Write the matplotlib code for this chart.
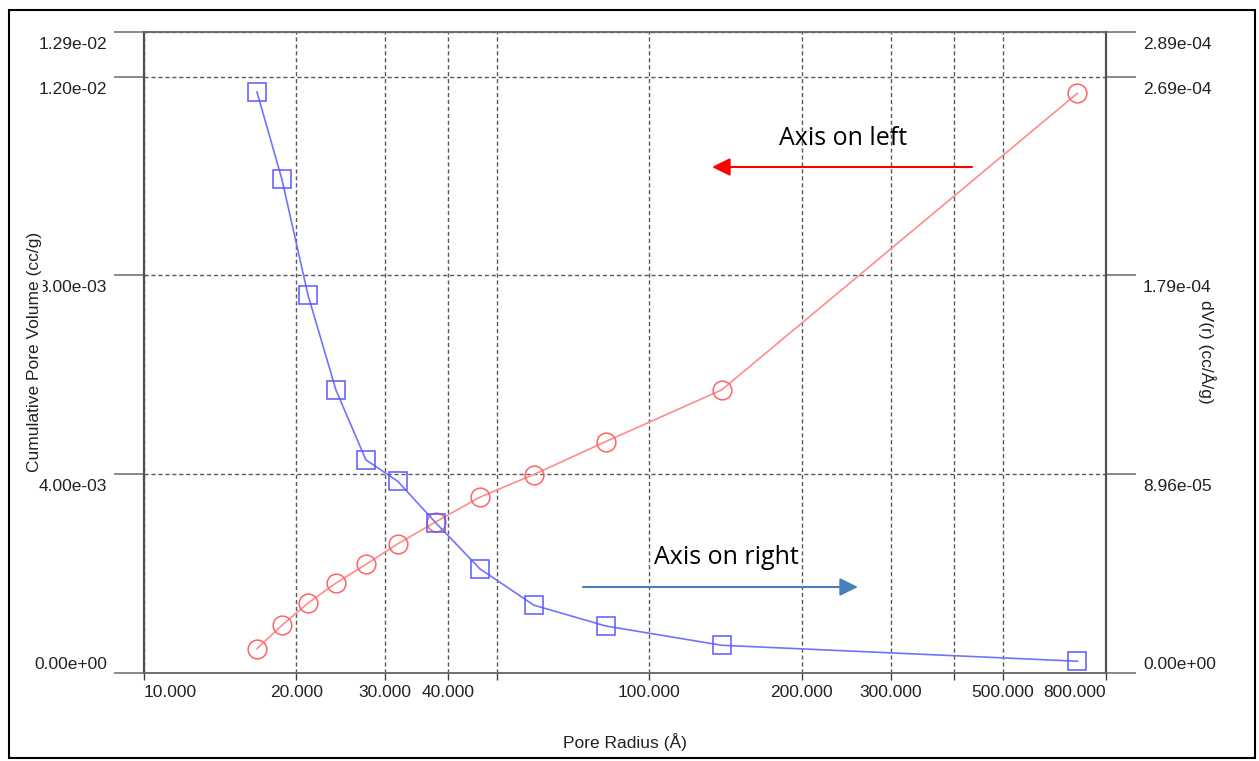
import matplotlib
matplotlib.use('Agg')
import matplotlib.pyplot as plt
from matplotlib.ticker import NullLocator
from matplotlib.patches import Rectangle

# pore size distribution data
radius = [16.73, 18.74, 21.10, 23.97, 27.47, 31.78, 37.78, 46.17, 59.03, 81.91, 138.9, 702.4]
cum_vol = [0.000490, 0.000959, 0.001407, 0.001809, 0.002185, 0.002601,
           0.003043, 0.003538, 0.003994, 0.004657, 0.005697, 0.011667]
dv_r = [2.619e-4, 2.226e-4, 1.705e-4, 1.276e-4, 9.61e-5, 8.64e-5,
        6.77e-5, 4.70e-5, 3.06e-5, 2.12e-5, 1.25e-5, 5.3e-6]

x_ticks = [10, 20, 30, 40, 50, 100, 200, 300, 400, 500, 800]
x_labels = ['10.000', '20.000', '30.000', '40.000', '', '100.000', '200.000',
            '300.000', '', '500.000', '800.000']
left_ticks = [0, 0.004, 0.008, 0.012, 0.0129]
right_ticks = [0, 8.96e-5, 1.792e-4, 2.688e-4, 2.8896e-4]

plt.rcParams['font.family'] = ['Liberation Sans', 'DejaVu Sans']
W, H = 1259, 761
fig = plt.figure(figsize=(W / 100, H / 100), dpi=100)
ax = fig.add_axes([144 / W, 1 - 673 / H, (1106 - 144) / W, (673 - 32) / H])
ax2 = ax.twinx()

txt = '#222222'
fs = 12.5

ax.plot(radius, cum_vol, color='#ff8c8c', lw=1.2, marker='o', ms=13.5,
        mfc='none', mec='#ff6464', mew=1.1, zorder=3)
ax2.plot(radius, dv_r, color='#7272ff', lw=1.2, marker='s', ms=13.5,
         mfc='none', mec='#5858ff', mew=1.1, zorder=3)

ax.set_xscale('log')
ax.set_xlim(10, 800)
ax.set_ylim(0, 0.0129)
ax2.set_ylim(0, 0.0129 * 0.0224)
ax.xaxis.set_minor_locator(NullLocator())
ax.set_xticks(x_ticks)
ax.set_xticklabels(x_labels)
for lab in ax.get_xticklabels():
    lab.set_fontsize(fs)
    lab.set_color(txt)
ax.get_xticklabels()[0].set_ha('left')
ax.get_xticklabels()[-1].set_ha('right')
ax.tick_params(axis='x', length=5, width=1, color='#404040', pad=3.4)

ax.set_yticks(left_ticks)
ax.set_yticklabels([])
ax2.set_yticks(right_ticks)
ax2.set_yticklabels([])
ax.tick_params(axis='y', length=21.6, width=1.1, color='#6a6a6a')
ax2.tick_params(axis='y', length=21.6, width=1.1, color='#6a6a6a')

# tick labels sit below their tick, the bottom one above it
for i, v in enumerate(left_ticks):
    dy = 4 if v == 0 else -17
    ax.annotate('%.2e' % v, xy=(0, v), xycoords=ax.get_yaxis_transform(),
                xytext=(-37, dy), textcoords='offset pixels',
                ha='right', va='baseline', fontsize=fs, color=txt)
for i, v in enumerate(right_ticks):
    dy = 4 if v == 0 else -17
    ax2.annotate('%.2e' % v, xy=(1, v), xycoords=ax2.get_yaxis_transform(),
                 xytext=(37, dy), textcoords='offset pixels',
                 ha='left', va='baseline', fontsize=fs, color=txt)

ax.grid(True, which='major', color='#5a5a5a', lw=1.0, ls=(0, (3, 2)))

for a in (ax, ax2):
    a.spines['left'].set_color('#505050')
    a.spines['right'].set_color('#505050')
    a.spines['left'].set_linewidth(1.5)
    a.spines['right'].set_linewidth(1.5)
    a.spines['top'].set_color('#6a6a6a')
    a.spines['bottom'].set_color('#6a6a6a')
    a.spines['top'].set_linewidth(1.1)
    a.spines['bottom'].set_linewidth(1.1)

fig.text(625 / W, 1 - 742 / H, 'Pore Radius (Å)', ha='center', va='center',
         fontsize=fs, color=txt)
fig.text(35 / W, 1 - 352 / H, 'Cumulative Pore Volume (cc/g)', rotation=90,
         ha='center', va='center', fontsize=fs, color=txt,
         bbox=dict(facecolor='white', edgecolor='none', pad=0))
fig.text(1207 / W, 1 - 352 / H, 'dV(r) (cc/Å/g)', rotation=270,
         ha='center', va='center', fontsize=fs, color=txt)

# added notes with arrows
fig.text(779 / W, 1 - 145 / H, 'Axis on left', fontsize=18, family='Open Sans',
         ha='left', va='baseline', color='black')
fig.text(654 / W, 1 - 564 / H, 'Axis on right', fontsize=18, family='Open Sans',
         ha='left', va='baseline', color='black')
ax.annotate('', xy=(712 / W, 1 - 167 / H), xytext=(972 / W, 1 - 167 / H),
            xycoords='figure fraction', textcoords='figure fraction',
            arrowprops=dict(arrowstyle='-|>,head_length=0.55,head_width=0.27',
                            mutation_scale=20, lw=1.5, color='#ff0000',
                            shrinkA=0, shrinkB=0))
ax.annotate('', xy=(858 / W, 1 - 587 / H), xytext=(583 / W, 1 - 587 / H),
            xycoords='figure fraction', textcoords='figure fraction',
            arrowprops=dict(arrowstyle='-|>,head_length=0.55,head_width=0.27',
                            mutation_scale=20, lw=1.5, color='#4a7ebb',
                            shrinkA=0, shrinkB=0))

# outer frame
fig.patches.append(Rectangle((9 / W, 1 - 758 / H), (1255 - 9) / W, (758 - 10) / H,
                             transform=fig.transFigure, fill=False,
                             edgecolor='black', lw=1.5))

fig.savefig('out.png', dpi=100)
